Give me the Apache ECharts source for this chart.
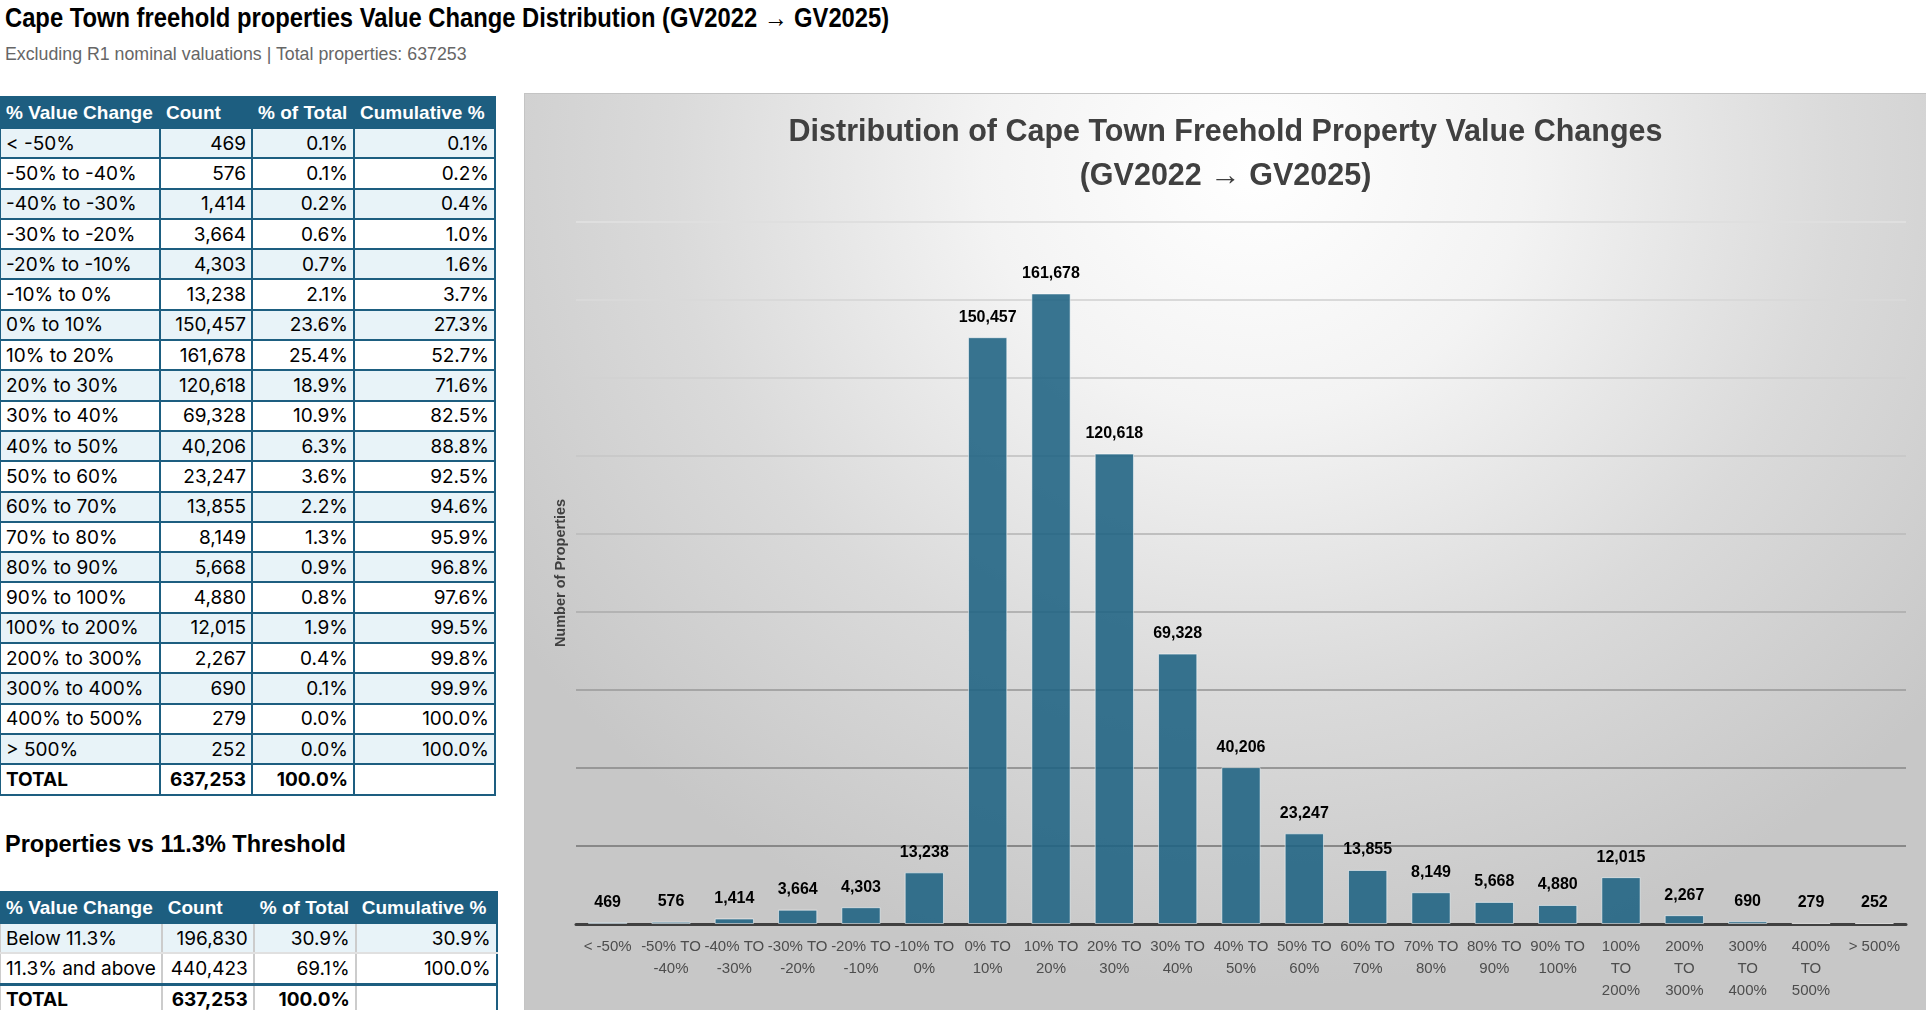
<!DOCTYPE html>
<html>
<head>
<meta charset="utf-8">
<script src="https://cdn.jsdelivr.net/npm/echarts@6/dist/echarts.min.js"></script>
<style>
  html, body { margin: 0; padding: 0; background: #fff; }
  body { width: 1926px; height: 1010px; position: relative; overflow: hidden; }
  .title { position: absolute; left: 5px; top: 3px; font: bold 27px "Liberation Sans", sans-serif; color: #000; white-space: nowrap;
    transform: scaleX(0.88); transform-origin: 0 0; }
  .sub { position: absolute; left: 5px; top: 43px; font: 19px "Liberation Sans", sans-serif; color: #666; white-space: nowrap;
    transform: scaleX(0.935); transform-origin: 0 0; }
  .h2 { position: absolute; left: 5px; top: 831px; font: bold 23.5px "Liberation Sans", sans-serif; color: #000; white-space: nowrap; }
  table { position: absolute; left: -1px; border-collapse: collapse; table-layout: fixed; }
  td, th { border: 2px solid #1d5e80; padding: 0 5px; height: 28.3px; font: 19px Inter, sans-serif; color: #000; white-space: nowrap; overflow: hidden; }
  th { background: #1d5e80; color: #fff; font: bold 19px "Liberation Sans", sans-serif; text-align: left; height: 29px; }
  td.n { text-align: right; }
  tr.alt td { background: #e8f3f8; }
  tr.tot td { font-weight: bold; }
  #t2 td { border-left-color: #cccccc; border-right-color: #cccccc; border-top-color: #e0e0e0; border-bottom-color: #e0e0e0; }
  #t2 td:last-child { border-right-color: #1d5e80; }
  #t2 tr.tot td { border-top: 3px solid #1d5e80; }
  #chart { position: absolute; left: 524px; top: 93px; width: 1402px; height: 917px;
    border-top: 1px solid #c4c4c4; border-left: 1px solid #c4c4c4; box-sizing: border-box;
    background: radial-gradient(ellipse 900px 820px at 52% 8%, #ffffff 0%, #f3f3f3 30%, #dadada 65%, #c7c7c7 100%); }
</style>
</head>
<body>
<div class="title">Cape Town freehold properties Value Change Distribution (GV2022 → GV2025)</div>
<div class="sub">Excluding R1 nominal valuations | Total properties: 637253</div>
<table id="t1" style="top:96px"></table>
<div class="h2">Properties vs 11.3% Threshold</div>
<table id="t2" style="top:891px"></table>
<div id="chart"></div>
<script>
// value-change bands and counts
var bands = ['< -50%', '-50% to -40%', '-40% to -30%', '-30% to -20%', '-20% to -10%', '-10% to 0%',
  '0% to 10%', '10% to 20%', '20% to 30%', '30% to 40%', '40% to 50%', '50% to 60%', '60% to 70%',
  '70% to 80%', '80% to 90%', '90% to 100%', '100% to 200%', '200% to 300%', '300% to 400%',
  '400% to 500%', '> 500%'];
var counts = [469, 576, 1414, 3664, 4303, 13238, 150457, 161678, 120618, 69328, 40206, 23247, 13855,
  8149, 5668, 4880, 12015, 2267, 690, 279, 252];
var pctTotal = ['0.1%', '0.1%', '0.2%', '0.6%', '0.7%', '2.1%', '23.6%', '25.4%', '18.9%', '10.9%', '6.3%',
  '3.6%', '2.2%', '1.3%', '0.9%', '0.8%', '1.9%', '0.4%', '0.1%', '0.0%', '0.0%'];
var cumPct = ['0.1%', '0.2%', '0.4%', '1.0%', '1.6%', '3.7%', '27.3%', '52.7%', '71.6%', '82.5%', '88.8%',
  '92.5%', '94.6%', '95.9%', '96.8%', '97.6%', '99.5%', '99.8%', '99.9%', '100.0%', '100.0%'];
var totalCount = 637253;
var totalPct = '100.0%';

// threshold table
var thrBands = ['Below 11.3%', '11.3% and above'];
var thrCounts = [196830, 440423];
var thrPct = ['30.9%', '69.1%'];
var thrCum = ['30.9%', '100.0%'];

var headers = ['% Value Change', 'Count', '% of Total', 'Cumulative %'];
var colWidths = [160, 92, 102, 141];

function fmt(n) { return n.toLocaleString('en-US'); }

function buildTable(id, labels, cnts, pcts, cums) {
  var h = '<colgroup>' + colWidths.map(function (w) { return '<col style="width:' + w + 'px">'; }).join('') + '</colgroup>';
  h += '<tr>' + headers.map(function (t) { return '<th>' + t + '</th>'; }).join('') + '</tr>';
  for (var i = 0; i < labels.length; i++) {
    h += '<tr class="' + (i % 2 === 0 ? 'alt' : '') + '"><td>' + labels[i].replace('<', '&lt;') + '</td><td class="n">' + fmt(cnts[i]) +
      '</td><td class="n">' + pcts[i] + '</td><td class="n">' + cums[i] + '</td></tr>';
  }
  h += '<tr class="tot"><td>TOTAL</td><td class="n">' + fmt(totalCount) + '</td><td class="n">' + totalPct + '</td><td></td></tr>';
  document.getElementById(id).innerHTML = h;
}
buildTable('t1', bands, counts, pctTotal, cumPct);
buildTable('t2', thrBands, thrCounts, thrPct, thrCum);

function axisName(b) {
  var s = b.toUpperCase();
  var p = s.split(' TO ');
  if (p.length < 2) return s;
  if (parseInt(p[0], 10) >= 100) return p[0] + '\nTO\n' + p[1];
  return p[0] + ' TO\n' + p[1];
}

var gridColors = ['#404040', '#888888', '#979797', '#a5a5a5', '#b3b3b3', '#bfbfbf', '#c9c9c9', '#d2d2d2', '#d9d9d9', '#dfdfdf'];

var chart = echarts.init(document.getElementById('chart'));
chart.setOption({
  backgroundColor: 'transparent',
  title: {
    text: 'Distribution of Cape Town Freehold Property Value Changes\n(GV2022 → GV2025)',
    left: 'center',
    top: 12,
    textStyle: { fontFamily: 'Liberation Sans', fontSize: 30.5, fontWeight: 'bold', color: '#404040', lineHeight: 44 }
  },
  grid: { left: 51, right: 20, top: 128, bottom: 86, containLabel: false },
  xAxis: {
    type: 'category',
    data: bands,
    axisLine: { lineStyle: { color: '#404040', width: 3 } },
    axisTick: { show: false },
    axisLabel: {
      interval: 0, margin: 12, lineHeight: 22, color: '#4d4d4d',
      fontFamily: 'Liberation Sans', fontSize: 15,
      formatter: axisName
    }
  },
  yAxis: {
    type: 'value',
    min: 0, max: 180000, interval: 20000,
    name: 'Number of Properties',
    nameLocation: 'middle',
    nameGap: 8,
    nameTextStyle: { fontFamily: 'Liberation Sans', fontSize: 14.5, fontWeight: 'bold', color: '#404040' },
    axisLabel: { show: false },
    axisLine: { show: false },
    axisTick: { show: false },
    splitLine: { lineStyle: { color: gridColors, width: 2 } }
  },
  series: [{
    type: 'bar',
    data: counts,
    barCategoryGap: '38%',
    itemStyle: { color: 'rgba(30,98,130,0.88)', borderColor: 'rgba(255,255,255,0.55)', borderWidth: 1 },
    label: {
      show: true, position: 'top', distance: 12, color: '#000',
      fontFamily: 'Liberation Sans', fontSize: 16, fontWeight: 'bold',
      formatter: function (p) { return fmt(p.value); }
    }
  }]
});
</script>
</body>
</html>
